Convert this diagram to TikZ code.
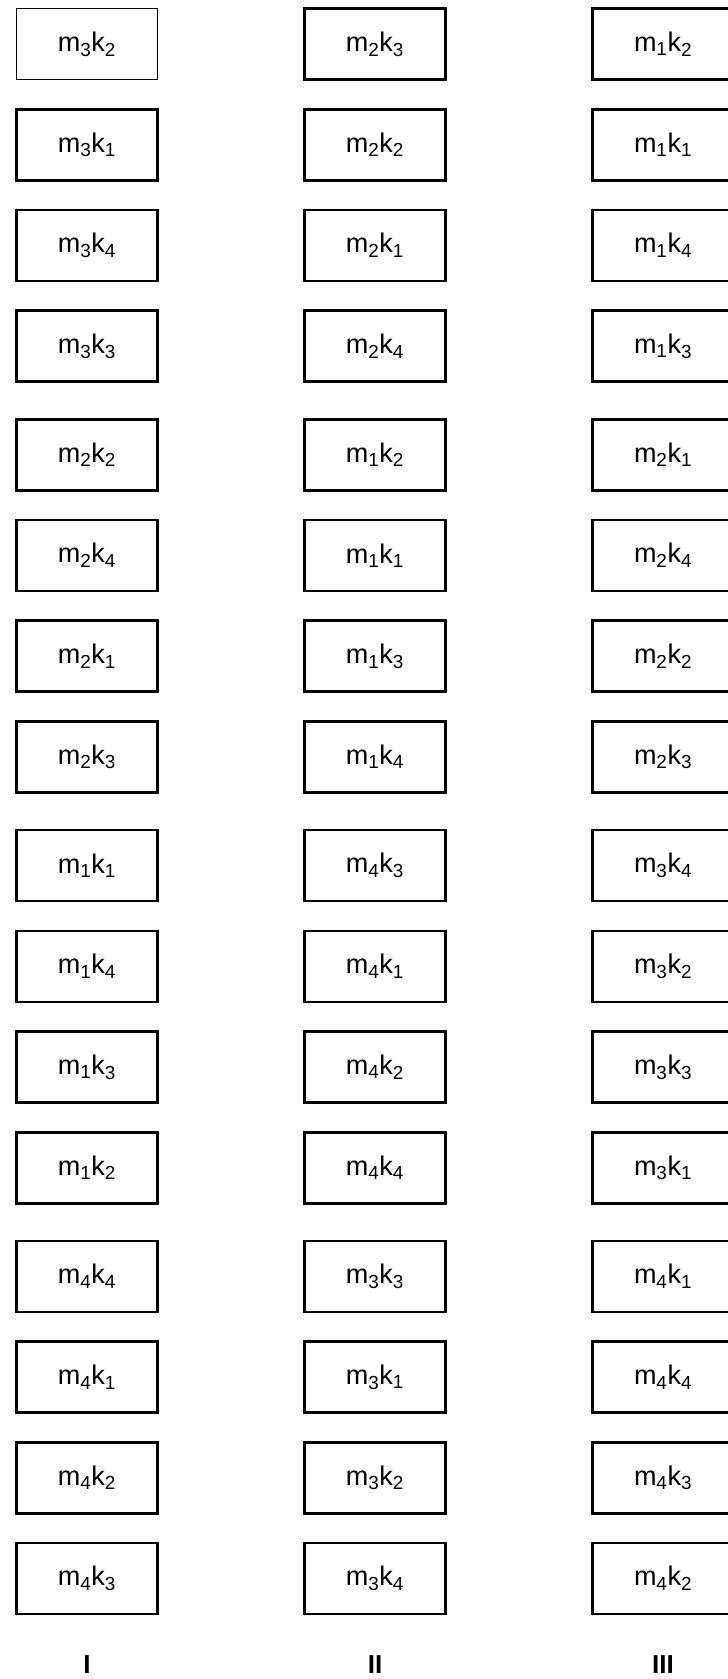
\documentclass[tikz,border=0pt]{standalone}
\usepackage{fontspec}
\setmainfont{Liberation Sans}
\usetikzlibrary{positioning}

\tikzset{cell/.style={draw,line width=2.6pt,minimum width=141pt,minimum height=71pt,inner sep=0pt,
  font=\fontsize{27}{30}\selectfont},
  colname/.style={font=\bfseries\fontsize{26}{30}\selectfont}}
\newcommand{\mk}[2]{m\textsubscript{#1}k\textsubscript{#2}}

\begin{document}
\begin{tikzpicture}[x=1pt,y=-1pt]
\useasboundingbox (0,0) rectangle (728,1679);
\foreach \m/\k [count=\i from 0] in {3/2,3/1,3/4,3/3,2/2,2/4,2/1,2/3,1/1,1/4,1/3,1/2,4/4,4/1,4/2,4/3}{
  \pgfmathsetmacro\yy{44+\i*100.7+8*floor(\i/4)}
  \pgfmathsetmacro\lw{\i==0 ? 1.4 : 2.6}
  \node[cell,line width=\lw pt] (a\i) at (87,\yy) {\mk{\m}{\k}};
}
\foreach \m/\k [count=\i from 0] in {2/3,2/2,2/1,2/4,1/2,1/1,1/3,1/4,4/3,4/1,4/2,4/4,3/3,3/1,3/2,3/4}{
  \pgfmathsetmacro\yy{44+\i*100.7+8*floor(\i/4)}
  \node[cell] (b\i) at (375,\yy) {\mk{\m}{\k}};
}
\foreach \m/\k [count=\i from 0] in {1/2,1/1,1/4,1/3,2/1,2/4,2/2,2/3,3/4,3/2,3/3,3/1,4/1,4/4,4/3,4/2}{
  \pgfmathsetmacro\yy{44+\i*100.7+8*floor(\i/4)}
  \node[cell] (c\i) at (663,\yy) {\mk{\m}{\k}};
}
\node[colname] (na) at (87,1665) {I};
\node[colname] (nb) at (375,1665) {II};
\node[colname] (nc) at (663,1665) {III};
\end{tikzpicture}
\end{document}
